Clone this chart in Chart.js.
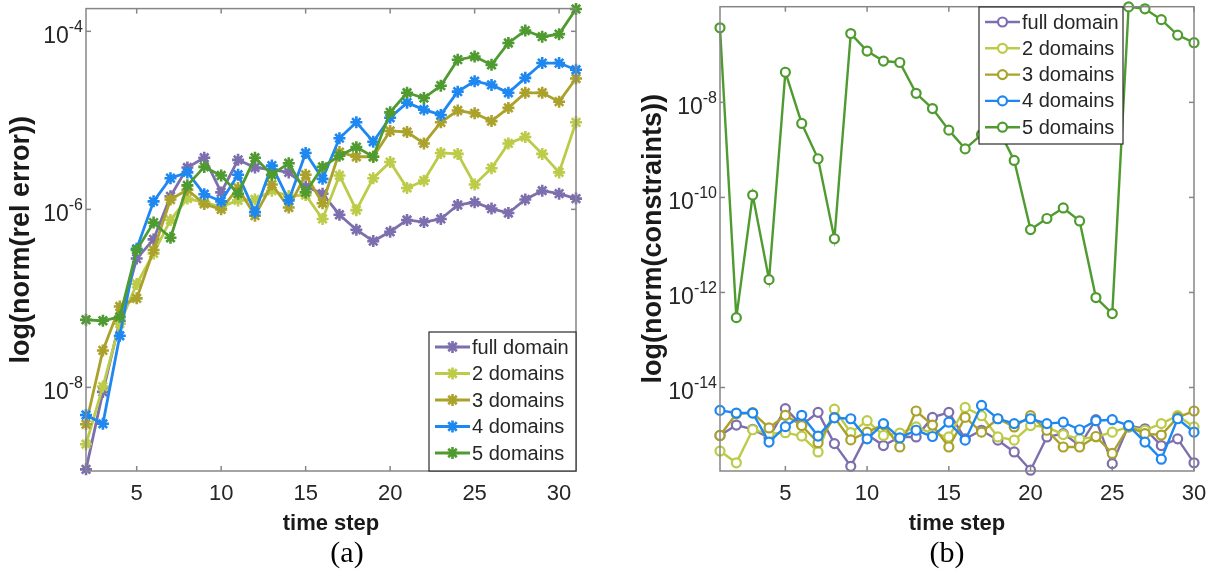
<!DOCTYPE html>
<html>
<head>
<meta charset="utf-8">
<script src="https://cdn.jsdelivr.net/npm/chart.js@4.4.1/dist/chart.umd.min.js"></script>
<style>
  html, body { margin: 0; padding: 0; background: #fff; }
  #wrap { position: relative; width: 1215px; height: 575px; }
  canvas { position: absolute; top: 0; }
  #cA { left: 0; }
  #cB { left: 607px; }
</style>
</head>
<body>
<div id="wrap">
  <canvas id="cA" width="607" height="575"></canvas>
  <canvas id="cB" width="608" height="575"></canvas>
</div>
<script>
// ---- data (a): relative error, time steps 2..31
const stepsA = [2,3,4,5,6,7,8,9,10,11,12,13,14,15,16,17,18,19,20,21,22,23,24,25,26,27,28,29,30,31];
const errFull = [1.20e-9,8.9e-9,5.6e-8,2.8e-7,4.6e-7,1.4e-6,2.95e-6,3.8e-6,1.55e-6,3.6e-6,2.95e-6,2.8e-6,2.6e-6,1.8e-6,1.5e-6,8.7e-7,5.9e-7,4.4e-7,5.6e-7,7.6e-7,7.2e-7,7.8e-7,1.12e-6,1.2e-6,1.02e-6,9.1e-7,1.29e-6,1.62e-6,1.5e-6,1.32e-6];
const err2 = [2.3e-9,1.02e-8,5.2e-8,1.45e-7,3.2e-7,7.6e-7,1.32e-6,1.2e-6,1.07e-6,1.26e-6,1.29e-6,1.62e-6,1.41e-6,1.45e-6,7.8e-7,2.4e-6,9.8e-7,2.24e-6,3.4e-6,1.74e-6,2.1e-6,4.3e-6,4.2e-6,1.9e-6,2.9e-6,5.5e-6,6.5e-6,4.2e-6,2.6e-6,9.5e-6];
const err3 = [3.85e-9,2.6e-8,8.1e-8,1.0e-7,3.5e-7,1.29e-6,1.66e-6,1.15e-6,1.0e-6,1.74e-6,8.5e-7,1.9e-6,1.05e-6,2.45e-6,1.17e-6,4.4e-6,3.9e-6,3.9e-6,7.6e-6,7.4e-6,5.5e-6,9.5e-6,1.29e-5,1.2e-5,9.8e-6,1.38e-5,2.04e-5,2.04e-5,1.62e-5,2.95e-5];
const err4 = [4.9e-9,3.9e-9,3.8e-8,3.6e-7,1.23e-6,2.24e-6,2.6e-6,1.48e-6,1.23e-6,2.45e-6,9.3e-7,3.1e-6,1.26e-6,4.3e-6,2.2e-6,6.3e-6,9.5e-6,5.75e-6,1.07e-5,1.58e-5,1.32e-5,1.15e-5,2.1e-5,2.75e-5,2.5e-5,2.04e-5,3.0e-5,4.4e-5,4.4e-5,3.7e-5];
const err5 = [5.75e-8,5.6e-8,6.2e-8,3.5e-7,7.1e-7,4.8e-7,1.86e-6,3.0e-6,2.4e-6,1.5e-6,3.8e-6,2.45e-6,3.3e-6,1.55e-6,3.0e-6,4.0e-6,5.0e-6,3.9e-6,1.23e-5,2.04e-5,1.78e-5,2.45e-5,4.8e-5,5.2e-5,4.2e-5,7.4e-5,1.02e-4,8.7e-5,9.3e-5,1.78e-4];

// ---- data (b): constraints, time steps 1..30
const stepsB = [1,2,3,4,5,6,7,8,9,10,11,12,13,14,15,16,17,18,19,20,21,22,23,24,25,26,27,28,29,30];
const conFull = [9.8e-16,1.62e-15,1.32e-15,8.7e-16,3.6e-15,1.62e-15,3.0e-15,6.6e-16,2.2e-16,1.02e-15,6.0e-16,9.1e-16,9.1e-16,2.35e-15,3.0e-15,8.3e-16,1.26e-15,7.8e-16,4.4e-16,1.82e-16,9.1e-16,1.07e-15,6.0e-16,2.1e-15,2.5e-16,1.58e-15,1.35e-15,6.0e-16,8.3e-16,2.6e-16];
const con2 = [4.6e-16,2.6e-16,1.29e-15,1.07e-15,1.12e-15,9.5e-16,4.4e-16,3.5e-15,1.12e-15,2.0e-15,9.8e-16,1.1e-15,1.48e-15,1.07e-15,9.1e-16,3.8e-15,2.55e-15,9.1e-16,7.8e-16,1.58e-15,1.48e-15,1.02e-15,8.3e-16,9.1e-16,1.15e-15,1.48e-15,1.26e-15,1.74e-15,2.55e-15,1.48e-15];
const con3 = [9.8e-16,2.8e-15,2.95e-15,1.41e-15,2.6e-15,1.58e-15,6.9e-16,2.35e-15,7.9e-16,1.15e-15,1.66e-15,5.6e-16,3.2e-15,1.62e-15,5.6e-16,2.35e-15,1.15e-15,2.2e-15,1.48e-15,2.55e-15,1.26e-15,5.6e-16,5.6e-16,9.3e-16,4.1e-16,1.48e-15,1.07e-15,1.0e-15,2.35e-15,3.2e-15];
const con4 = [3.3e-15,2.9e-15,2.9e-15,7.1e-16,1.5e-15,2.6e-15,9.5e-16,2.3e-15,2.2e-15,8.3e-16,1.74e-15,8.7e-16,1.26e-15,9.3e-16,1.86e-15,7.8e-16,4.2e-15,2.2e-15,1.74e-15,2.2e-15,1.74e-15,1.86e-15,1.29e-15,2.0e-15,2.1e-15,1.58e-15,7.1e-16,3.1e-16,2.2e-15,1.15e-15];
const con5 = [3.7e-7,2.95e-13,1.12e-10,1.86e-12,4.3e-8,3.6e-9,6.5e-10,1.35e-11,2.8e-7,1.2e-7,7.4e-8,6.9e-8,1.55e-8,7.4e-9,2.6e-9,1.05e-9,2.1e-9,2.9e-9,6.0e-10,2.1e-11,3.6e-11,6.0e-11,3.2e-11,7.8e-13,3.6e-13,1.02e-6,9.3e-7,5.5e-7,2.6e-7,1.8e-7];

const seriesNames = ["full domain", "2 domains", "3 domains", "4 domains", "5 domains"];
const seriesColors = ["#7d6fae", "#bccb48", "#aba22c", "#1e88f0", "#4f9b30"];

const xTickVals = [5, 10, 15, 20, 25, 30];
const yTicksA = [1e-8, 1e-6, 1e-4];
const yExpsA = ["-8", "-6", "-4"];
const yTicksB = [1e-14, 1e-12, 1e-10, 1e-8];
const yExpsB = ["-14", "-12", "-10", "-8"];

const TXT = "#262626";
const SANS = '"Liberation Sans", Arial, sans-serif';

// matlab-ish axes: box, inward ticks, labels, legend inside axes, caption
const matlabAxes = {
    id: "matlabAxes",
    afterDatasetsDraw(chart, args, o) {
        const ctx = chart.ctx;
        const a = chart.chartArea;
        const xs = chart.scales.x, ys = chart.scales.y;
        const seg = (x1, y1, x2, y2) => { ctx.beginPath(); ctx.moveTo(x1, y1); ctx.lineTo(x2, y2); ctx.stroke(); };
        ctx.save();

        ctx.strokeStyle = "#868686";
        ctx.lineWidth = 1.5;
        ctx.strokeRect(a.left, a.top, a.right - a.left, a.bottom - a.top);

        ctx.fillStyle = TXT;
        ctx.font = "22px " + SANS;
        ctx.textAlign = "center";
        ctx.textBaseline = "middle";
        o.xTicks.forEach(v => {
            const px = xs.getPixelForValue(v);
            seg(px, a.bottom, px, a.bottom - 5);
            seg(px, a.top, px, a.top + 5);
            ctx.fillText(String(v), px, a.bottom + 23);
        });

        o.yTicks.forEach((v, i) => {
            const py = ys.getPixelForValue(v);
            seg(a.left, py, a.left + 5, py);
            seg(a.right, py, a.right - 5, py);
            // "10" with a raised exponent
            ctx.font = "16px " + SANS;
            const ew = ctx.measureText(o.yExps[i]).width;
            ctx.textAlign = "left";
            ctx.fillText(o.yExps[i], a.left - 3 - ew, py - 4);
            ctx.font = "23px " + SANS;
            ctx.textAlign = "right";
            ctx.fillText("10", a.left - 3 - ew, py + 5);
        });

        // axis titles
        ctx.font = "bold 22px " + SANS;
        ctx.textAlign = "center";
        ctx.fillStyle = "#1a1a1a";
        ctx.fillText("time step", (a.left + a.right) / 2, a.bottom + 53);
        ctx.save();
        ctx.translate(o.yTitleX, (a.top + a.bottom) / 2);
        ctx.rotate(-Math.PI / 2);
        ctx.font = "bold 27px " + SANS;
        ctx.fillText(o.yTitle, 0, 0);
        ctx.restore();

        // caption
        ctx.font = '30px "Liberation Serif", "DejaVu Serif", serif';
        ctx.fillStyle = "#000";
        ctx.fillText(o.caption, o.captionX, 554);

        // legend box
        const L = o.legend;
        ctx.fillStyle = "#fff";
        ctx.fillRect(L.left, L.top, L.width, L.height);
        ctx.strokeStyle = "#2b2b2b";
        ctx.lineWidth = 1.2;
        ctx.strokeRect(L.left, L.top, L.width, L.height);
        ctx.font = "20px " + SANS;
        ctx.textAlign = "left";
        chart.data.datasets.forEach((ds, i) => {
            const yy = L.top + L.first + i * L.step;
            const x0 = L.left + 6, x1 = x0 + 35;
            ctx.strokeStyle = ds.borderColor;
            ctx.lineWidth = ds.borderWidth;
            seg(x0, yy, x1, yy);
            ctx.fillStyle = ds.pointBackgroundColor;
            ctx.lineWidth = ds.pointBorderWidth;
            Chart.helpers.drawPoint(ctx, { pointStyle: ds.pointStyle, radius: ds.pointRadius, rotation: 0, borderWidth: ds.pointBorderWidth }, (x0 + x1) / 2, yy);
            ctx.fillStyle = TXT;
            ctx.fillText(ds.label, x1 + 2, yy + 1);
        });
        ctx.restore();
    }
};

function makeSets(steps, values, marker) {
    const star = marker === "star";
    return values.map((vals, i) => ({
        label: seriesNames[i],
        data: vals.map((v, k) => ({ x: steps[k], y: v })),
        borderColor: seriesColors[i],
        backgroundColor: seriesColors[i],
        borderWidth: star ? 2.8 : 2.4,
        pointStyle: marker,
        pointRadius: star ? 6 : 4.5,
        pointBorderWidth: star ? 2.6 : 2.2,
        pointBorderColor: seriesColors[i],
        pointBackgroundColor: star ? seriesColors[i] : "#ffffff",
        tension: 0,
        clip: false,
        order: values.length - 1 - i
    }));
}

function baseOptions(xMin, xMax, yMin, yMax, padding, axisOpts) {
    return {
        responsive: false,
        animation: false,
        events: [],
        layout: { padding: padding },
        plugins: { legend: { display: false }, tooltip: { enabled: false }, matlabAxes: axisOpts },
        scales: {
            x: { type: "linear", min: xMin, max: xMax, display: false },
            y: { type: "logarithmic", min: yMin, max: yMax, display: false }
        }
    };
}

new Chart(document.getElementById("cA"), {
    type: "line",
    data: { datasets: makeSets(stepsA, [errFull, err2, err3, err4, err5], "star") },
    options: baseOptions(2, 31, 1.15e-9, 1.8e-4, { left: 86, top: 5, right: 31, bottom: 104 }, {
        xTicks: xTickVals, yTicks: yTicksA, yExps: yExpsA,
        yTitle: "log(norm(rel error))", yTitleX: 22,
        caption: "(a)", captionX: 347,
        legend: { left: 429, top: 332, width: 147, height: 139, first: 15, step: 26.5 }
    }),
    plugins: [matlabAxes]
});

new Chart(document.getElementById("cB"), {
    type: "line",
    data: { datasets: makeSets(stepsB, [conFull, con2, con3, con4, con5], "circle") },
    options: baseOptions(1, 30, 1.75e-16, 1.03e-6, { left: 113, top: 5, right: 21, bottom: 104 }, {
        xTicks: xTickVals, yTicks: yTicksB, yExps: yExpsB,
        yTitle: "log(norm(constraints))", yTitleX: 47,
        caption: "(b)", captionX: 340,
        legend: { left: 372, top: 7, width: 144, height: 137, first: 15, step: 26.3 }
    }),
    plugins: [matlabAxes]
});
</script>
</body>
</html>
